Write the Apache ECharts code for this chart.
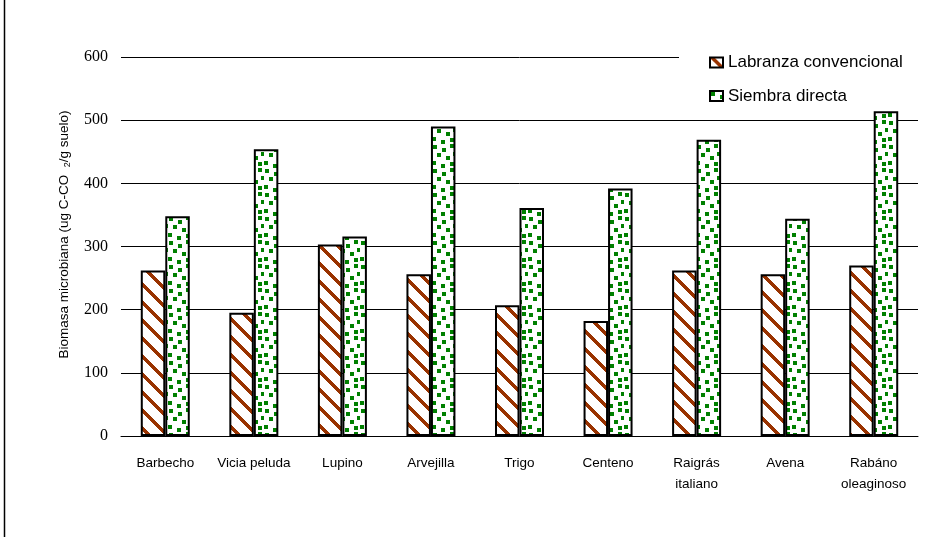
<!DOCTYPE html>
<html>
<head>
<meta charset="utf-8">
<script src="https://cdn.jsdelivr.net/npm/echarts@6/dist/echarts.min.js"></script>
<style>
  html, body { margin: 0; padding: 0; background: #fff; }
  #chart { width: 948px; height: 537px; }
</style>
</head>
<body>
<div id="chart"></div>
<script>
// Biomasa microbiana por cultivo de cobertura y sistema de labranza
const categories = ['Barbecho', 'Vicia peluda', 'Lupino', 'Arvejilla', 'Trigo', 'Centeno', 'Raigrás\nitaliano', 'Avena', 'Rabáno\noleaginoso'];
const labranzaConvencional = [262, 195, 303, 256, 207, 182, 262, 256, 270];
const siembraDirecta = [348, 454, 316, 490, 361, 392, 469, 344, 514];
const yTicks = { min: 0, max: 600, interval: 100 };

// diagonal brown stripes on white
function stripePattern() {
  const P = 18, c = document.createElement('canvas');
  c.width = P; c.height = P;
  const g = c.getContext('2d');
  g.fillStyle = '#ffffff'; g.fillRect(0, 0, P, P);
  g.fillStyle = '#993300';
  for (let y = 0; y < P; y++) {
    for (let x = 0; x < P; x++) {
      if (((x - y) % P + P) % P < 5) g.fillRect(x, y, 1, 1);
    }
  }
  return c;
}

// green confetti squares on white
function confettiPattern() {
  const P = 24, c = document.createElement('canvas');
  c.width = P; c.height = P;
  const g = c.getContext('2d');
  g.fillStyle = '#ffffff'; g.fillRect(0, 0, P, P);
  g.fillStyle = '#008000';
  const spots = [[1,1],[10,4],[18,0],[5,9],[14,12],[21,8],[0,17],[9,20],[18,18]];
  spots.forEach(([x, y]) => g.fillRect(x, y, 4, 4));
  return c;
}

const chart = echarts.init(document.getElementById('chart'), null, { renderer: 'canvas' });

const barBorder = { borderColor: '#000', borderWidth: 2 };

chart.setOption({
  animation: false,
  backgroundColor: '#ffffff',
  grid: { left: 121, right: 30, top: 57, bottom: 101 },
  legend: {
    orient: 'vertical',
    left: 679,
    top: 45,
    padding: [9, 40, 4, 30],
    backgroundColor: '#ffffff',
    itemWidth: 13,
    itemHeight: 10,
    itemGap: 16.5,
    icon: 'rect',
    textStyle: { fontFamily: 'Liberation Sans', fontSize: 17, color: '#000', lineHeight: 17 },
    data: ['Labranza convencional', 'Siembra directa']
  },
  xAxis: {
    type: 'category',
    data: categories,
    axisLine: { show: true, lineStyle: { color: '#000', width: 1 } },
    axisTick: { show: false },
    axisLabel: {
      color: '#000',
      fontFamily: 'Liberation Sans',
      fontSize: 13.5,
      lineHeight: 21,
      margin: 17,
      interval: 0
    }
  },
  yAxis: {
    type: 'value',
    min: yTicks.min,
    max: yTicks.max,
    interval: yTicks.interval,
    axisLine: { show: false },
    axisTick: { show: false },
    splitLine: { show: true, lineStyle: { color: '#000', width: 1 } },
    axisLabel: { color: '#000', fontFamily: 'Liberation Serif', fontSize: 16, margin: 13 },
    name: 'Biomasa microbiana (ug C-CO  {sub|2}/g suelo)',
    nameLocation: 'middle',
    nameRotate: 90,
    nameGap: 49,
    nameTextStyle: {
      color: '#000',
      fontFamily: 'Liberation Sans',
      fontSize: 13.5,
      padding: [0, 0, 0, 24],
      rich: {
        sub: { fontFamily: 'Liberation Sans', fontSize: 9, color: '#000', padding: [7, 0, 0, 0] }
      }
    }
  },
  series: [
    {
      name: 'Labranza convencional',
      type: 'bar',
      data: labranzaConvencional,
      barWidth: 24.5,
      barGap: '0%',
      itemStyle: Object.assign({ color: { image: stripePattern(), repeat: 'repeat' } }, barBorder)
    },
    {
      name: 'Siembra directa',
      type: 'bar',
      data: siembraDirecta,
      barWidth: 24.5,
      barGap: '0%',
      itemStyle: Object.assign({ color: { image: confettiPattern(), repeat: 'repeat' } }, barBorder)
    }
  ],
  graphic: [
    {
      type: 'line',
      shape: { x1: 4.5, y1: 0, x2: 4.5, y2: 537 },
      style: { stroke: '#000', lineWidth: 1.5 }
    }
  ]
});
</script>
</body>
</html>
